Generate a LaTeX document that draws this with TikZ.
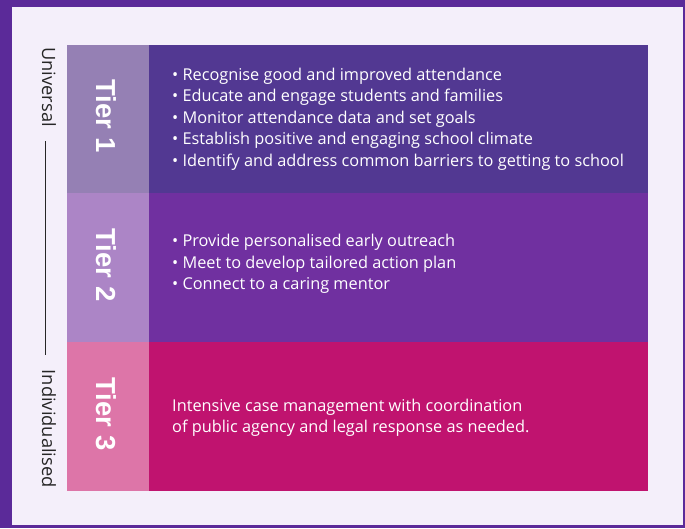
\documentclass[tikz,border=0pt]{standalone}
\usepackage{fontspec}
\setmainfont{Open Sans}
\newfontfamily\tierfont{Liberation Sans}
\definecolor{outerbg}{HTML}{5B2A99}
\definecolor{panel}{HTML}{F4EFFA}
\definecolor{tonea}{HTML}{9580B4}
\definecolor{toneA}{HTML}{523892}
\definecolor{toneb}{HTML}{AC85C6}
\definecolor{toneB}{HTML}{7030A0}
\definecolor{tonec}{HTML}{DD75A8}
\definecolor{toneC}{HTML}{C0136F}
\begin{document}
\begin{tikzpicture}[x=1pt,y=-1pt,
  tierlabel/.style={text=white,font=\tierfont\fontsize{27.5}{30}\selectfont\bfseries,rotate=-90,anchor=center},
  bodytext/.style={text=white,font=\fontsize{16.3}{21.5}\selectfont,align=left,anchor=west,inner sep=0pt},
  sidetext/.style={text=black!85,font=\fontsize{18.3}{20}\selectfont,rotate=-90,inner sep=0pt}]
  \useasboundingbox (0,0) rectangle (685,528);
  % page background and inner panel
  \fill[outerbg] (0,0) rectangle (685,528);
  \fill[panel] (12,7) rectangle (683,525);
  % tier rows
  \fill[tonea] (67,45) rectangle (149,193);
  \fill[toneA] (149,45) rectangle (648,193);
  \fill[toneb] (67,193) rectangle (149,342);
  \fill[toneB] (149,193) rectangle (648,342);
  \fill[tonec] (67,342) rectangle (149,491);
  \fill[toneC] (149,342) rectangle (648,491);
  % tier labels
  \node[tierlabel] (t1) at (106,116) {Tier 1};
  \node[tierlabel] (t2) at (106,265) {Tier 2};
  \node[tierlabel] (t3) at (106,414) {Tier 3};
  % row contents
  \node[bodytext] (b1) at (172,119) {• Recognise good and improved attendance\\
    • Educate and engage students and families\\
    • Monitor attendance data and set goals\\
    • Establish positive and engaging school climate\\
    • Identify and address common barriers to getting to school};
  \node[bodytext] (b2) at (172,264) {• Provide personalised early outreach\\
    • Meet to develop tailored action plan\\
    • Connect to a caring mentor};
  \node[bodytext] (b3) at (172,418) {Intensive case management with coordination\\
    of public agency and legal response as needed.};
  % side scale
  \node[sidetext,anchor=west] (u) at (49,47) {Universal};
  \node[sidetext,anchor=east] (i) at (49,488) {Individualised};
  \coordinate (ltop) at (45,141);
  \coordinate (lbot) at (45,355);
  \draw[black!85,line width=0.8pt] (ltop) -- (lbot);
\end{tikzpicture}
\end{document}
